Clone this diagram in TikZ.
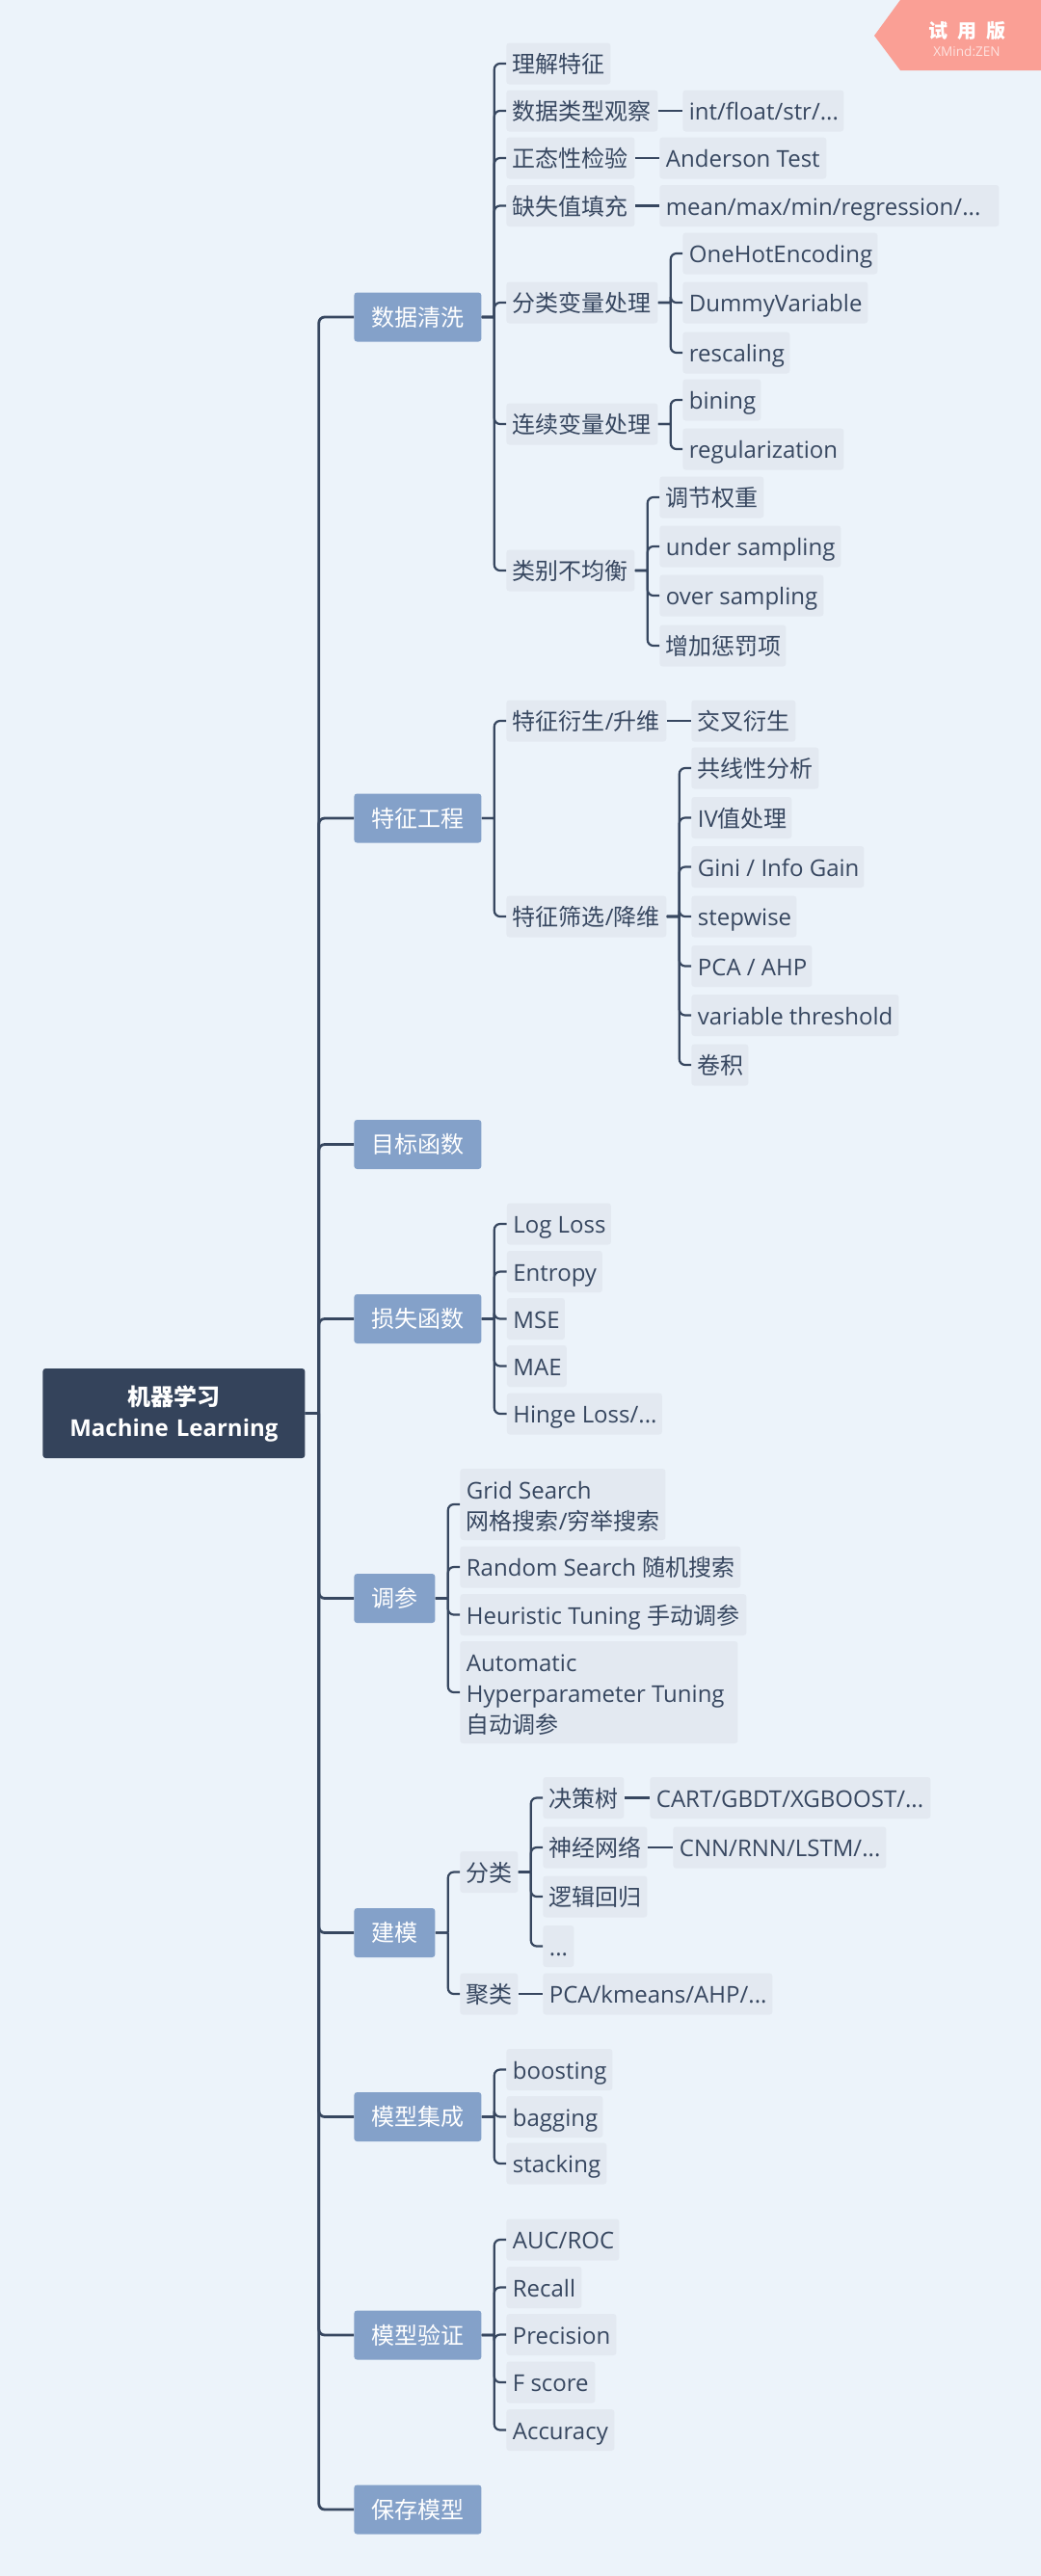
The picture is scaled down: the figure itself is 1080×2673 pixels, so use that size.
\documentclass[tikz,border=0pt]{standalone}
\usepackage{fontspec}
\setmainfont{Open Sans}
\newfontfamily\cjk{Noto Sans CJK SC}
\newcommand{\pad}{\spaceskip=0pt\xspaceskip=0pt\hspace*{3.25pt}}
\definecolor{paper}{HTML}{ECF3FA}
\definecolor{ink}{HTML}{374760}
\definecolor{rootfill}{HTML}{34435B}
\definecolor{mainfill}{HTML}{84A1C9}
\definecolor{leaffill}{HTML}{E3E9F1}
\definecolor{badgefill}{HTML}{FA9F95}
\tikzset{
    wd/.style={minimum width=#1*0.5pt},
    tw/.style={text width=#1*0.5pt},
    rootbox/.style={fill=rootfill,text=white,rounded corners=1.5pt,inner sep=0pt,anchor=west,align=center,text width=136pt,text height=19pt,text depth=27.5pt,font=\fontsize{12}{16}\selectfont\bfseries},
    mainbox/.style={fill=mainfill,text=white,rounded corners=1.5pt,inner sep=0pt,anchor=west,text height=17.25pt,text depth=8.25pt,font=\fontsize{12}{16}\selectfont},
    leaf/.style={fill=leaffill,text=ink,rounded corners=1.5pt,inner sep=0pt,anchor=west,align=flush left,text height=15.5pt,text depth=6pt,font=\fontsize{12}{16}\selectfont,execute at begin node=\pad},
    trunk/.style={draw=ink,line width=1.4pt,rounded corners=3pt},
    twig/.style={draw=ink,line width=1.1pt,rounded corners=3pt},
}
\begin{document}
\begin{tikzpicture}[x=0.5pt,y=-0.5pt]

    % Page and trial badge
    \useasboundingbox (0,0) rectangle (1080,2673);
    \fill[paper] (0,0) rectangle (1080,2673);
    \fill[badgefill] (934,0) -- (1080,0) -- (1080,73) -- (934,73) -- (907,37) -- cycle;
    \node[text=white,font=\fontsize{10}{12}\selectfont\bfseries] (badge) at (1003,32) {\cjk 试\hspace{5pt}用\hspace{5pt}版};
    \node[text=white,opacity=0.7,font=\fontsize{6.8}{8}\selectfont] (badgesub) at (1003,53) {XMind:ZEN};

    % Root
    \node[rootbox] (root) at (44,1466.5) {{\cjk 机器学习}\\Machine Learning};

    % Main topics
    \node[mainbox,wd=132] (clean) at (367,329) {\cjk 数据清洗};
    \node[mainbox,wd=132] (feature) at (367,849) {\cjk 特征工程};
    \node[mainbox,wd=132] (target) at (367,1187.5) {\cjk 目标函数};
    \node[mainbox,wd=132] (loss) at (367,1368.5) {\cjk 损失函数};
    \node[mainbox,wd=84] (tune) at (367,1658.5) {\cjk 调参};
    \node[mainbox,wd=84] (model) at (367,2005.5) {\cjk 建模};
    \node[mainbox,wd=132] (ensemble) at (367,2196.5) {\cjk 模型集成};
    \node[mainbox,wd=132] (valid) at (367,2423) {\cjk 模型验证};
    \node[mainbox,wd=132] (save) at (367,2604) {\cjk 保存模型};

    % Data cleaning
    \node[leaf,tw=108] (clean1) at (525,66) {\cjk 理解特征};
    \node[leaf,tw=157] (clean2) at (525,115) {\cjk 数据类型观察};
    \node[leaf,tw=133] (clean3) at (525,164) {\cjk 正态性检验};
    \node[leaf,tw=133] (clean4) at (525,213.5) {\cjk 缺失值填充};
    \node[leaf,tw=157] (clean5) at (525,314) {\cjk 分类变量处理};
    \node[leaf,tw=157] (clean6) at (525,440) {\cjk 连续变量处理};
    \node[leaf,tw=133] (clean7) at (525,592) {\cjk 类别不均衡};
    \node[leaf,tw=167] (type1) at (708,115) {int/float/str/...};
    \node[leaf,tw=173] (norm1) at (684,164) {Anderson Test};
    \node[leaf,tw=352] (fill1) at (684,213.5) {mean/max/min/regression/...};
    \node[leaf,tw=202] (cat1) at (708,263) {OneHotEncoding};
    \node[leaf,tw=192] (cat2) at (708,314) {DummyVariable};
    \node[leaf,tw=111] (cat3) at (708,366) {rescaling};
    \node[leaf,tw=81] (cont1) at (708,415) {bining};
    \node[leaf,tw=167] (cont2) at (708,466) {regularization};
    \node[leaf,tw=108] (imb1) at (684,516) {\cjk 调节权重};
    \node[leaf,tw=188] (imb2) at (684,567) {under sampling};
    \node[leaf,tw=170] (imb3) at (684,618) {over sampling};
    \node[leaf,tw=131] (imb4) at (684,670) {\cjk 增加惩罚项};

    % Feature engineering
    \node[leaf,tw=166] (feature1) at (525,748) {{\cjk 特征衍生}/{\cjk 升维}};
    \node[leaf,tw=166] (feature2) at (525,951) {{\cjk 特征筛选}/{\cjk 降维}};
    \node[leaf,tw=108] (derive1) at (717,748) {\cjk 交叉衍生};
    \node[leaf,tw=132] (select1) at (717,797) {\cjk 共线性分析};
    \node[leaf,tw=104] (select2) at (717,848.5) {IV{\cjk 值处理}};
    \node[leaf,tw=179] (select3) at (717,899.5) {Gini / Info Gain};
    \node[leaf,tw=109] (select4) at (717,951) {stepwise};
    \node[leaf,tw=125] (select5) at (717,1002.5) {PCA / AHP};
    \node[leaf,tw=215] (select6) at (717,1053.5) {variable threshold};
    \node[leaf,tw=59] (select7) at (717,1105) {\cjk 卷积};

    % Loss functions
    \node[leaf,tw=108] (loss1) at (525.5,1270) {Log Loss};
    \node[leaf,tw=99] (loss2) at (525.5,1319.5) {Entropy};
    \node[leaf,tw=60] (loss3) at (525.5,1368.5) {MSE};
    \node[leaf,tw=62] (loss4) at (525.5,1417.5) {MAE};
    \node[leaf,tw=161] (loss5) at (525.5,1467) {Hinge Loss/...};

    % Tuning
    \node[leaf,tw=213,text depth=21.5pt] (tune1) at (477,1561) {Grid Search\\\pad{\cjk 网格搜索}/{\cjk 穷举搜索}};
    \node[leaf,tw=291] (tune2) at (477,1626) {Random Search {\cjk 随机搜索}};
    \node[leaf,tw=297] (tune3) at (477,1675.5) {Heuristic Tuning {\cjk 手动调参}};
    \node[leaf,tw=288,text depth=37.5pt] (tune4) at (477,1756) {Automatic\\\pad Hyperparameter Tuning\\\pad{\cjk 自动调参}};

    % Modelling
    \node[leaf,tw=60] (model1) at (477,1942.5) {\cjk 分类};
    \node[leaf,tw=60] (model2) at (477,2069) {\cjk 聚类};
    \node[leaf,tw=84] (class1) at (563,1865.5) {\cjk 决策树};
    \node[leaf,tw=108] (class2) at (563,1917) {\cjk 神经网络};
    \node[leaf,tw=108] (class3) at (563,1968) {\cjk 逻辑回归};
    \node[leaf,tw=32] (class4) at (563,2019.5) {...};
    \node[leaf,tw=291] (tree1) at (674,1865.5) {CART/GBDT/XGBOOST/...};
    \node[leaf,tw=221] (net1) at (698,1917) {CNN/RNN/LSTM/...};
    \node[leaf,tw=238] (clus1) at (563,2069) {PCA/kmeans/AHP/...};

    % Ensembles
    \node[leaf,tw=110] (ens1) at (525,2147.5) {boosting};
    \node[leaf,tw=100] (ens2) at (525,2196.5) {bagging};
    \node[leaf,tw=104] (ens3) at (525,2245) {stacking};

    % Validation
    \node[leaf,tw=117] (valid1) at (525,2324) {AUC/ROC};
    \node[leaf,tw=78] (valid2) at (525,2373.5) {Recall};
    \node[leaf,tw=114] (valid3) at (525,2422.5) {Precision};
    \node[leaf,tw=92] (valid4) at (525,2472) {F score};
    \node[leaf,tw=112] (valid5) at (525,2521.5) {Accuracy};

    % Connectors: trunk
    \foreach \kid in {clean,feature,target,loss,tune,model,ensemble,valid,save} {
        \draw[trunk] (root.east) -- ++(14,0) ++(0,0) |- (\kid.west);
    }

    % Connectors: branches
    \foreach \kid in {clean1,clean2,clean3,clean4,clean5,clean6,clean7} {
        \draw[twig] (clean.east) -- ++(13,0) ++(0,0) |- (\kid.west);
    }
    \foreach \kid in {cat1,cat2,cat3} {
        \draw[twig] (clean5.east) -- ++(13,0) ++(0,0) |- (\kid.west);
    }
    \foreach \kid in {cont1,cont2} {
        \draw[twig] (clean6.east) -- ++(13,0) ++(0,0) |- (\kid.west);
    }
    \foreach \kid in {imb1,imb2,imb3,imb4} {
        \draw[twig] (clean7.east) -- ++(13,0) ++(0,0) |- (\kid.west);
    }
    \foreach \kid in {feature1,feature2} {
        \draw[twig] (feature.east) -- ++(13,0) ++(0,0) |- (\kid.west);
    }
    \foreach \kid in {select1,select2,select3,select4,select5,select6,select7} {
        \draw[twig] (feature2.east) -- ++(13,0) ++(0,0) |- (\kid.west);
    }
    \foreach \kid in {loss1,loss2,loss3,loss4,loss5} {
        \draw[twig] (loss.east) -- ++(13,0) ++(0,0) |- (\kid.west);
    }
    \foreach \kid in {tune1,tune2,tune3,tune4} {
        \draw[twig] (tune.east) -- ++(13,0) ++(0,0) |- (\kid.west);
    }
    \foreach \kid in {model1,model2} {
        \draw[twig] (model.east) -- ++(13,0) ++(0,0) |- (\kid.west);
    }
    \foreach \kid in {class1,class2,class3,class4} {
        \draw[twig] (model1.east) -- ++(13,0) ++(0,0) |- (\kid.west);
    }
    \foreach \kid in {ens1,ens2,ens3} {
        \draw[twig] (ensemble.east) -- ++(13,0) ++(0,0) |- (\kid.west);
    }
    \foreach \kid in {valid1,valid2,valid3,valid4,valid5} {
        \draw[twig] (valid.east) -- ++(13,0) ++(0,0) |- (\kid.west);
    }

    % Connectors: single links
    \draw[twig] (clean2) -- (type1);
    \draw[twig] (clean3) -- (norm1);
    \draw[twig] (clean4) -- (fill1);
    \draw[twig] (feature1) -- (derive1);
    \draw[twig] (class1) -- (tree1);
    \draw[twig] (class2) -- (net1);
    \draw[twig] (model2) -- (clus1);

\end{tikzpicture}
\end{document}
